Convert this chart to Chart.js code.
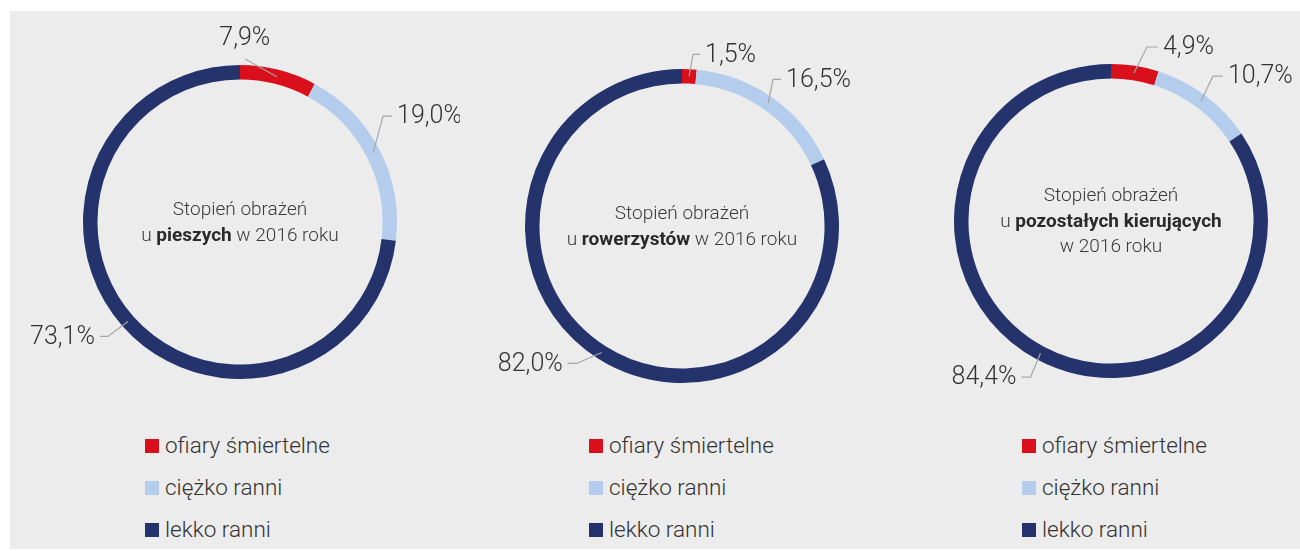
<!DOCTYPE html>
<html>
<head>
<meta charset="utf-8">
<script src="https://cdn.jsdelivr.net/npm/chart.js@4.4.1/dist/chart.umd.min.js"></script>
<style>
  html, body { margin: 0; padding: 0; background: #fff; }
  #page { position: relative; width: 1300px; height: 551px; overflow: hidden; background: #fff; }
  #panel { position: absolute; left: 10px; top: 11px; width: 1290px; height: 538px; background: #ececec; }
  canvas { position: absolute; }
  .leg { position: absolute; font-family: Roboto, sans-serif; font-weight: 300; font-size: 22.5px; color: #333; white-space: nowrap; line-height: 24px; }
  .leg span.sw { display: inline-block; width: 14px; height: 14px; margin-right: 6px; vertical-align: 0px; }
</style>
</head>
<body>
<div id="page">
  <div id="panel"></div>
  <canvas id="c1"></canvas>
  <canvas id="c2"></canvas>
  <canvas id="c3"></canvas>
</div>
<script>
// categories and values (%)
var categories = ["ofiary śmiertelne", "ciężko ranni", "lekko ranni"];
var pieszych = [7.9, 19.0, 73.1];
var rowerzystow = [1.5, 16.5, 82.0];
var pozostalych = [4.9, 10.7, 84.4];
var valueLabels = [
  ["7,9%", "19,0%", "73,1%"],
  ["1,5%", "16,5%", "82,0%"],
  ["4,9%", "10,7%", "84,4%"]
];
var centerTexts = [
  [[["Stopień obrażeń", false]], [["u ", false], ["pieszych", true], [" w 2016 roku", false]]],
  [[["Stopień obrażeń", false]], [["u ", false], ["rowerzystów", true], [" w 2016 roku", false]]],
  [[["Stopień obrażeń", false]], [["u ", false], ["pozostałych kierujących", true]], [["w 2016 roku", false]]]
];
var colors = ["#d90f1b", "#b5cdec", "#24336b"];

// layout
var regions = [[10, 460], [460, 900], [900, 1300]];
var centers = [[240, 222], [682, 226], [1111, 221]];
var radius = 157;
var canvasTop = 11, canvasH = 400;
// leader line: elbow offset from slice middle, tail length
var leaders = [
  [[-32, -18, 0], [10, -37, 9], [-20, 15, -8]],
  [[4, -22, 7], [5, -24, 8], [-25, 11, -9]],
  [[13, -26, 11], [12, -25, 10], [-10, 24, -9]]
];
var legendX = [145, 589, 1022];
var legendY = [446, 488, 530];

var labelPlugin = {
  id: 'labels',
  afterDatasetsDraw: function (chart) {
    var ctx = chart.ctx;
    var idx = chart.options.plugins.labels.idx;
    var meta = chart.getDatasetMeta(0);
    ctx.save();
    meta.data.forEach(function (arc, i) {
      var p = arc.getProps(['x', 'y', 'startAngle', 'endAngle', 'innerRadius', 'outerRadius'], true);
      var a = (p.startAngle + p.endAngle) / 2;
      var r = (p.innerRadius + p.outerRadius) / 2;
      var ax = p.x + Math.cos(a) * r;
      var ay = p.y + Math.sin(a) * r;
      var L = leaders[idx][i];
      var ex = ax + L[0], ey = ay + L[1];
      var tx = ex + L[2];
      ctx.strokeStyle = '#a6a6a6';
      ctx.lineWidth = 1.2;
      ctx.beginPath();
      ctx.moveTo(ax, ay);
      ctx.lineTo(ex, ey);
      if (L[2] !== 0) ctx.lineTo(tx, ey);
      ctx.stroke();
      ctx.fillStyle = '#333';
      ctx.font = '300 25px Roboto, sans-serif';
      ctx.textBaseline = 'middle';
      if (L[2] === 0) {
        ctx.textAlign = 'center';
        ctx.fillText(valueLabels[idx][i], ex, ey - 20);
      } else if (L[2] > 0) {
        ctx.textAlign = 'left';
        ctx.fillText(valueLabels[idx][i], tx + 5, ey + 1);
      } else {
        ctx.textAlign = 'right';
        ctx.fillText(valueLabels[idx][i], tx - 5, ey + 1);
      }
    });
    // center text
    var lines = centerTexts[idx];
    var cx = meta.data[0].x, cy = meta.data[0].y;
    var lh = 25.5;
    var y0 = cy - (lines.length - 1) * lh / 2 + 1;
    ctx.textBaseline = 'middle';
    ctx.textAlign = 'left';
    lines.forEach(function (line, j) {
      var w = 0;
      line.forEach(function (seg) {
        ctx.font = (seg[1] ? '700' : '300') + ' 19px Roboto, sans-serif';
        w += ctx.measureText(seg[0]).width;
      });
      var x = cx - w / 2;
      line.forEach(function (seg) {
        ctx.font = (seg[1] ? '700' : '300') + ' 19px Roboto, sans-serif';
        ctx.fillStyle = seg[1] ? '#2a2a2a' : '#3a3a3a';
        ctx.fillText(seg[0], x, y0 + j * lh);
        x += ctx.measureText(seg[0]).width;
      });
    });
    ctx.restore();
  }
};

function makeChart(id, idx, values) {
  var reg = regions[idx], c = centers[idx];
  var el = document.getElementById(id);
  var w = reg[1] - reg[0];
  el.style.left = reg[0] + 'px';
  el.style.top = canvasTop + 'px';
  el.style.width = w + 'px';
  el.style.height = canvasH + 'px';
  el.width = w;
  el.height = canvasH;
  new Chart(el, {
    type: 'doughnut',
    data: {
      labels: categories,
      datasets: [{
        data: values,
        backgroundColor: colors,
        borderWidth: 0,
        hoverOffset: 0
      }]
    },
    options: {
      responsive: false,
      animation: false,
      cutout: '90.8%',
      layout: {
        padding: {
          left: c[0] - radius - reg[0],
          right: reg[1] - (c[0] + radius),
          top: c[1] - radius - canvasTop,
          bottom: canvasTop + canvasH - (c[1] + radius)
        }
      },
      plugins: {
        legend: { display: false },
        tooltip: { enabled: false },
        labels: { idx: idx }
      }
    },
    plugins: [labelPlugin]
  });

  // legend
  var page = document.getElementById('page');
  categories.forEach(function (cat, i) {
    var d = document.createElement('div');
    d.className = 'leg';
    d.style.left = legendX[idx] + 'px';
    d.style.top = (legendY[i] - 13) + 'px';
    d.innerHTML = '<span class="sw" style="background:' + colors[i] + '"></span>' + cat;
    page.appendChild(d);
  });
}

makeChart('c1', 0, pieszych);
makeChart('c2', 1, rowerzystow);
makeChart('c3', 2, pozostalych);
</script>
</body>
</html>
